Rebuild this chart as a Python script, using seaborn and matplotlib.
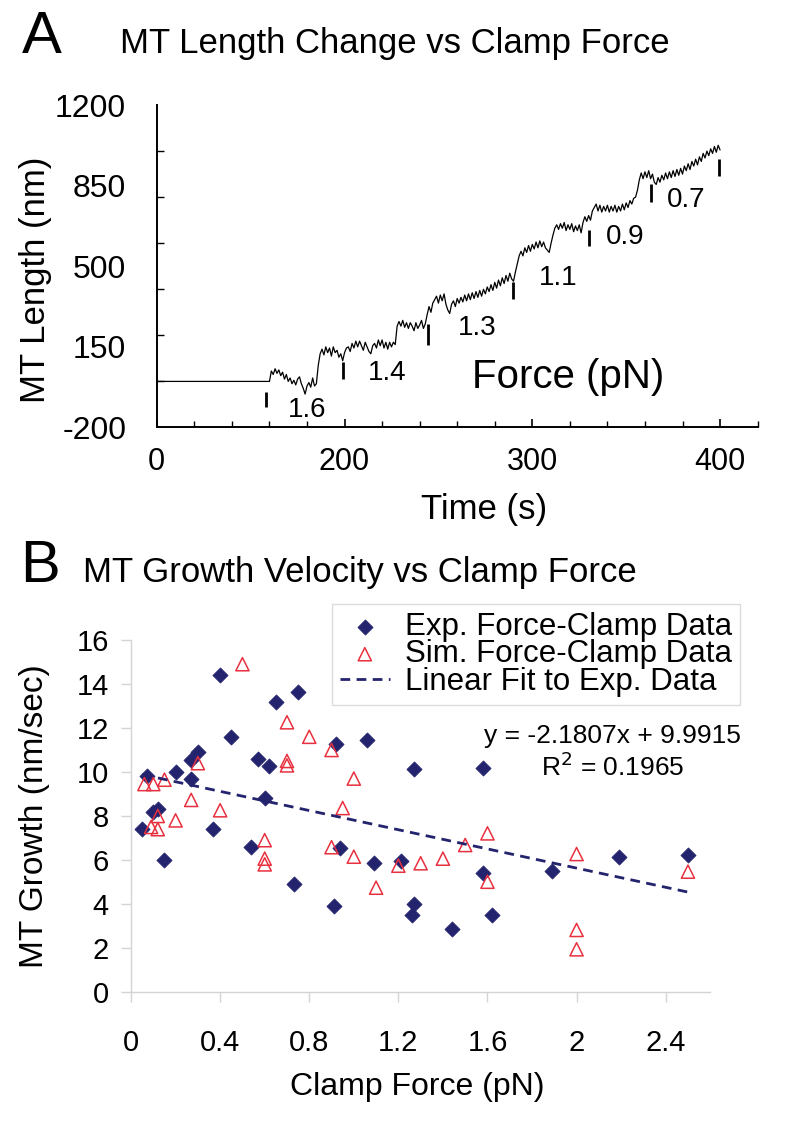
import matplotlib
matplotlib.use('Agg')
import matplotlib.pyplot as plt
import seaborn as sns
import numpy as np
import pandas as pd

# ---- panel A data: MT length trace (s, nm) ----
trace_t = [100] + list(range(160, 401))
trace_nm = [0,
    0, 45, 30, 55, 35, 50, 25, 40, 10, 30, 0, 15, -10, 5, -15, 10, 20, -10, -30, -55,
    -20, -5, -25, 15, -20, -10, 70, 120, 140, 115, 150, 125, 145, 110, 150, 125, 135, 105, 120, 90,
    125, 145, 150, 130, 165, 145, 175, 150, 175, 155, 135, 170, 150, 130, 120, 155, 165, 145, 180, 155,
    180, 145, 170, 140, 170, 150, 170, 160, 240, 260, 240, 265, 235, 255, 230, 255, 240, 220, 255, 230,
    245, 265, 230, 250, 290, 325, 300, 340, 355, 370, 340, 375, 350, 380, 335, 310, 295, 335, 350, 325,
    360, 340, 365, 345, 375, 350, 380, 355, 385, 360, 390, 365, 395, 370, 400, 380, 410, 390, 420, 395,
    430, 405, 440, 415, 450, 425, 460, 435, 470, 445, 435, 475, 510, 545, 565, 545, 580, 560, 590, 565,
    595, 575, 605, 580, 610, 585, 605, 580, 570, 560, 600, 635, 665, 680, 660, 685, 665, 690, 655, 680,
    660, 685, 650, 675, 655, 680, 645, 690, 715, 695, 720, 700, 740, 755, 770, 740, 765, 735, 760, 740,
    765, 735, 760, 740, 765, 735, 760, 740, 770, 745, 775, 755, 785, 770, 795, 800, 830, 875, 905, 880,
    910, 885, 915, 880, 900, 865, 855, 885, 865, 895, 875, 905, 880, 910, 885, 915, 890, 920, 895, 925,
    900, 935, 915, 945, 920, 955, 935, 965, 940, 975, 955, 990, 970, 1000, 980, 1010, 990, 1020, 995, 1025,
    1005]

# clamp-switch markers (time, bar bottom, bar top in nm)
mark_t = [158.3, 199.3, 244.5, 289.6, 330, 363, 399.4]
mark_lo = [-113, 9, 157, 357, 587, 778, 891]
mark_hi = [-46, 84, 248, 430, 657, 857, 965]

force_labels = ['1.6', '1.4', '1.3', '1.1', '0.9', '0.7']
force_t = [180, 222.7, 270.5, 314, 349.5, 382]
force_nm = [-126, 35, 230, 448, 627, 787]

a_xticks = [100, 200, 300, 400]
a_xticklabels = ['0', '200', '300', '400']
a_yticks = [-200, 150, 500, 850, 1200]

# ---- panel B data: growth velocity vs clamp force ----
exp_force = [0.05, 0.07, 0.10, 0.12, 0.15, 0.20, 0.27, 0.27, 0.30, 0.37, 0.40, 0.45, 0.54, 0.57,
             0.60, 0.62, 0.65, 0.73, 0.75, 0.91, 0.92, 0.94, 1.06, 1.09, 1.21, 1.26, 1.27, 1.27,
             1.44, 1.58, 1.58, 1.62, 1.89, 2.19, 2.50]
exp_growth = [7.4, 9.8, 8.2, 8.3, 6.0, 10.0, 9.7, 10.55, 10.9, 7.4, 14.4, 11.6, 6.6, 10.6,
              8.8, 10.25, 13.2, 4.9, 13.65, 3.9, 11.25, 6.55, 11.45, 5.85, 5.95, 3.5, 3.98, 10.12,
              2.85, 10.17, 5.42, 3.5, 5.52, 6.12, 6.23]

sim_force = [0.06, 0.10, 0.15, 0.09, 0.12, 0.12, 0.20, 0.27, 0.30, 0.40, 0.50, 0.60, 0.60, 0.60,
             0.70, 0.70, 0.70, 0.80, 0.90, 0.90, 0.95, 1.00, 1.00, 1.10, 1.20, 1.30, 1.40, 1.50,
             1.60, 1.60, 2.00, 2.00, 2.00, 2.50]
sim_growth = [9.45, 9.45, 9.65, 7.5, 7.4, 8.0, 7.8, 8.73, 10.4, 8.26, 14.9, 6.9, 6.06, 5.8,
              12.26, 10.5, 10.3, 11.6, 11.0, 6.58, 8.36, 9.7, 6.15, 4.74, 5.74, 5.85, 6.06, 6.68,
              7.21, 5.01, 6.27, 2.82, 1.94, 5.47]

fit_slope = -2.1807
fit_intercept = 9.9915
fit_r2 = 0.1965

navy = '#23236e'
red = '#e8303f'
grey = '#d4d4d4'

sns.set_theme(style='white')
plt.rcParams['font.family'] = ['Liberation Sans', 'DejaVu Sans']
plt.rcParams.update({'text.color': 'black', 'axes.labelcolor': 'black',
                     'xtick.color': 'black', 'ytick.color': 'black'})

fig = plt.figure(figsize=(8, 11.22), dpi=100)

# ================= Panel A =================
axA = fig.add_axes([0.196, 0.619, 0.751, 0.2874])
dfA = pd.DataFrame({'t': trace_t, 'nm': trace_nm})
sns.lineplot(data=dfA, x='t', y='nm', color='black', linewidth=0.9, ax=axA,
             estimator=None, sort=False)
axA.vlines(mark_t, mark_lo, mark_hi, color='black', linewidth=2.0)
for lab, t, y in zip(force_labels, force_t, force_nm):
    axA.text(t, y, lab, fontsize=20, ha='center', va='center')
axA.text(319, 19, 'Force (pN)', fontsize=29, ha='center', va='center')

axA.set_xlim(100, 420)
axA.set_ylim(-200, 1200)
axA.set_xticks(a_xticks)
axA.set_xticklabels(a_xticklabels)
axA.set_xticks(np.arange(100, 421, 20), minor=True)
axA.set_yticks(a_yticks)
axA.set_yticklabels([str(v) for v in a_yticks])
axA.set_yticks(np.arange(-200, 1201, 200), minor=True)
axA.tick_params(axis='x', which='major', direction='in', length=6, width=1.2,
                labelsize=22, pad=14, bottom=True)
axA.tick_params(axis='x', which='minor', direction='in', length=4, width=1, bottom=True)
axA.tick_params(axis='y', which='major', length=0, labelsize=23, pad=22)
axA.tick_params(axis='y', which='minor', direction='in', length=5, width=1, left=True)
for s in ['top', 'right']:
    axA.spines[s].set_visible(False)
for s in ['left', 'bottom']:
    axA.spines[s].set_color('black')
    axA.spines[s].set_linewidth(1.4)
axA.set_xlabel('Time (s)', fontsize=25)
axA.set_ylabel('MT Length (nm)', fontsize=25)
axA.xaxis.set_label_coords(0.544, -0.203)
axA.yaxis.set_label_coords(-0.175, 0.459)

fig.text(0.0275, 1 - 53 / 1122, 'A', fontsize=43, va='baseline')
fig.text(0.15, 1 - 53 / 1122, 'MT Length Change vs Clamp Force', fontsize=25, va='baseline')

# ================= Panel B =================
axB = fig.add_axes([0.1638, 0.1159, 0.724, 0.3137])
sns.scatterplot(x=exp_force, y=exp_growth, marker='D', s=60, color=navy,
                edgecolor=navy, linewidth=0.5, ax=axB, label='Exp. Force-Clamp Data')
sns.scatterplot(x=sim_force, y=sim_growth, marker='^', s=90, facecolor='none',
                edgecolor=red, linewidth=1.1, ax=axB, label='Sim. Force-Clamp Data')
fit_x = [min(exp_force), max(exp_force)]
fit_y = [fit_slope * v + fit_intercept for v in fit_x]
sns.lineplot(x=fit_x, y=fit_y, color=navy, linewidth=2, ax=axB,
             label='Linear Fit to Exp. Data')
axB.lines[-1].set_linestyle((0, (3.5, 2.3)))

axB.set_xlim(0, 2.6)
axB.set_ylim(0, 16)
axB.set_xticks(np.arange(0, 2.41, 0.4))
axB.set_xticklabels(['0', '0.4', '0.8', '1.2', '1.6', '2', '2.4'])
axB.set_yticks(np.arange(0, 17, 2))
axB.tick_params(axis='both', direction='out', length=7, width=1, color=grey,
                labelsize=21, bottom=True, left=True)
axB.tick_params(axis='x', pad=20)
axB.tick_params(axis='y', pad=9)
for s in ['top', 'right']:
    axB.spines[s].set_visible(False)
for s in ['left', 'bottom']:
    axB.spines[s].set_color(grey)
    axB.spines[s].set_linewidth(1)
axB.set_xlabel('Clamp Force (pN)', fontsize=23)
axB.set_ylabel('MT Growth (nm/sec)', fontsize=24)
axB.xaxis.set_label_coords(0.494, -0.228)
axB.yaxis.set_label_coords(-0.14, 0.5)

leg = axB.legend(loc='upper right', bbox_to_anchor=(1.052, 1.102), borderaxespad=0,
                 fontsize=22.5, frameon=True, fancybox=False, labelspacing=-0.08,
                 handlelength=1.6, handletextpad=0.5, borderpad=0.25)
leg.get_frame().set_edgecolor(grey)
leg.get_frame().set_linewidth(1)

axB.text(2.16, 11.3, 'y = -2.1807x + 9.9915', fontsize=19, ha='center', va='baseline')
axB.text(2.16, 9.8, 'R$^2$ = %.4f' % fit_r2, fontsize=19, ha='center', va='baseline')

fig.text(0.025, 1 - 582 / 1122, 'B', fontsize=43, va='baseline')
fig.text(0.104, 1 - 582 / 1122, 'MT Growth Velocity vs Clamp Force', fontsize=25, va='baseline')

fig.savefig('out.png', dpi=100)
